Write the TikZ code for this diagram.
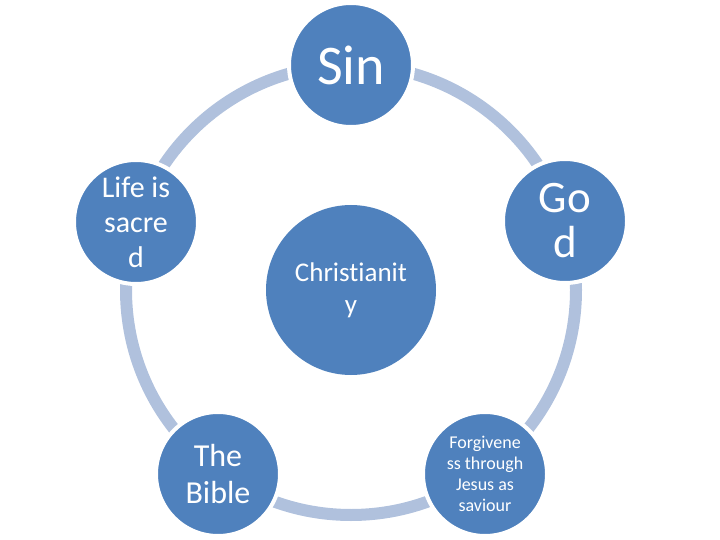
\documentclass[tikz,border=0pt]{standalone}
\usepackage{fontspec}
\setmainfont{Carlito}[Ligatures=CommonOff]
\definecolor{nodeblue}{HTML}{4F81BD}
\definecolor{ringblue}{HTML}{B0C1DD}
\begin{document}
\begin{tikzpicture}[x=1pt,y=-1pt,
  outer/.style={circle,fill=nodeblue,draw=white,line width=4pt,minimum size=124pt,inner sep=0pt,text=white,align=center},
  inner/.style={circle,fill=nodeblue,minimum size=170pt,inner sep=0pt,text=white,align=center},
  ring/.style={draw=ringblue,line width=12pt}]
\useasboundingbox (0,0) rectangle (720,540);
\coordinate (c) at (351,290);
\draw[ring] (c) circle (225pt);
\node[inner,font=\fontsize{27}{32}\selectfont] (chr) at (351,290) {Christianit\\y};
\node[outer,font=\fontsize{56}{60}\selectfont] (sin) at (351,65) {Sin};
\node[outer,font=\fontsize{45}{45}\selectfont] (god) at (565,221) {Go\\d};
\node[outer,font=\fontsize{18}{21}\selectfont] (for) at (485,474) {Forgivene\\ss through\\Jesus as\\saviour};
\node[outer,font=\fontsize{32}{37}\selectfont] (bib) at (218,474) {The\\Bible};
\node[outer,font=\fontsize{30}{35}\selectfont] (life) at (136,222) {Life is\\sacre\\d};
\end{tikzpicture}
\end{document}
